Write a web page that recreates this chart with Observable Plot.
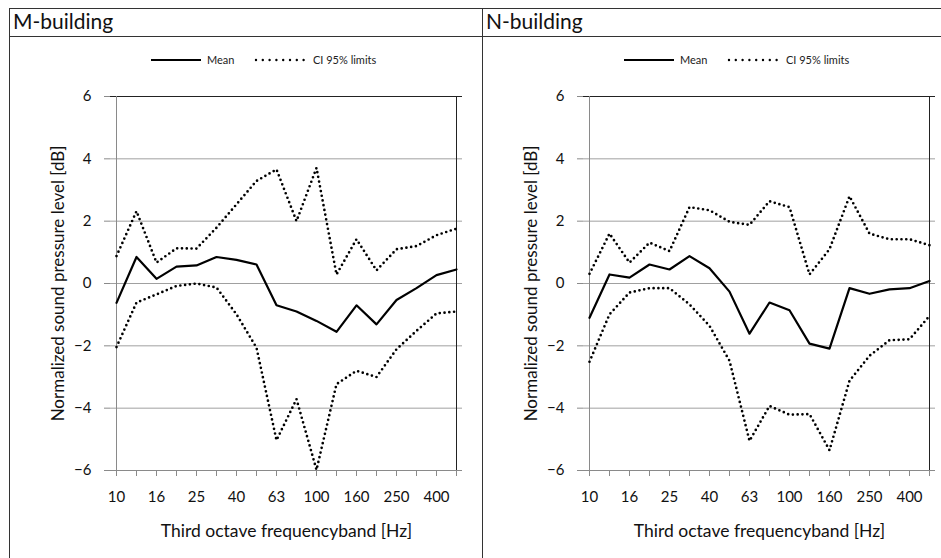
<!DOCTYPE html>
<html><head><meta charset="utf-8">
<script src="https://cdn.jsdelivr.net/npm/d3@7"></script>
<script src="https://cdn.jsdelivr.net/npm/@observablehq/plot@0.6"></script>
<style>
body{margin:0;background:#fff;font-family:Lato,sans-serif;}
#wrap{position:relative;width:941px;height:558px;overflow:hidden;background:#fff;}
.hline{position:absolute;height:1px;background:#333;}
.vline{position:absolute;width:1px;background:#333;}
.head{position:absolute;top:8px;font-size:21px;line-height:26px;color:#111;white-space:nowrap;}
.panel{position:absolute;top:36px;width:473px;height:522px;overflow:visible;}
.panel svg{display:block;max-width:none !important;width:473px !important;height:522px !important;}
.legend{position:absolute;top:53px;height:14px;font-size:11px;color:#222;white-space:nowrap;}
.legend svg, .legend span{position:absolute;top:0;}
.legend span{line-height:14px;}
</style></head>
<body><div id="wrap"></div>
<script>
const bands = ["10","12.5","16","20","25","31.5","40","50","63","80","100","125","160","200","250","315","400","500"];
const tickLabels = ["10","16","25","40","63","100","160","250","400"];
const yTicks = [-6, -4, -2, 0, 2, 4, 6];
const panelTitles = ["M-building", "N-building"];
const legendLabels = ["Mean", "CI 95% limits"];
const yTitle = "Normalized sound pressure level [dB]";
const xTitle = "Third octave frequencyband [Hz]";

const mMean  = [-0.62, 0.85, 0.15, 0.54, 0.58, 0.85, 0.76, 0.61, -0.70, -0.90, -1.20, -1.55, -0.70, -1.31, -0.53, -0.15, 0.27, 0.45];
const mUpper = [0.88, 2.32, 0.67, 1.13, 1.12, 1.79, 2.54, 3.29, 3.66, 2.00, 3.71, 0.29, 1.42, 0.42, 1.10, 1.20, 1.55, 1.76];
const mLower = [-2.04, -0.61, -0.35, -0.08, 0.00, -0.13, -0.99, -2.06, -5.03, -3.71, -5.98, -3.23, -2.80, -3.00, -2.11, -1.52, -0.96, -0.90];

const nMean  = [-1.10, 0.29, 0.19, 0.61, 0.45, 0.88, 0.49, -0.26, -1.61, -0.61, -0.86, -1.93, -2.09, -0.15, -0.33, -0.19, -0.15, 0.08];
const nUpper = [0.31, 1.60, 0.67, 1.31, 1.04, 2.45, 2.35, 1.98, 1.88, 2.64, 2.45, 0.29, 1.10, 2.80, 1.60, 1.42, 1.42, 1.23];
const nLower = [-2.51, -0.99, -0.29, -0.15, -0.15, -0.67, -1.36, -2.48, -5.05, -3.93, -4.21, -4.19, -5.35, -3.12, -2.32, -1.82, -1.79, -1.04];

const wrap = document.getElementById("wrap");
function el(cls, style, html) {
  const d = document.createElement("div");
  d.className = cls;
  Object.assign(d.style, style);
  if (html) d.innerHTML = html;
  wrap.appendChild(d);
  return d;
}

function panel(mean, upper, lower) {
  const rows = s => bands.map((b, i) => ({band: b, value: s[i]}));
  const dotted = {x: "band", y: "value", stroke: "#000", strokeWidth: 2.7, strokeDasharray: "0,4.8", strokeLinecap: "round"};
  return Plot.plot({
    width: 473, height: 522,
    marginLeft: 101, marginRight: 20, marginTop: 60, marginBottom: 88,
    x: {type: "point", domain: bands, padding: 0},
    y: {domain: [-6, 6]},
    style: {fontFamily: "Lato, sans-serif", fontSize: "15px", color: "#111", background: "transparent", overflow: "visible"},
    marks: [
      Plot.gridY(yTicks, {stroke: "#a0a0a0", strokeOpacity: 1}),
      Plot.ruleY([6], {stroke: "#222"}),
      Plot.ruleX([bands[bands.length - 1]], {stroke: "#222"}),
      Plot.ruleX([bands[0]], {stroke: "#8a8a8a"}),
      Plot.ruleY([-6], {stroke: "#8a8a8a"}),
      Plot.axisY(yTicks, {tickSize: 6, tickPadding: 13, stroke: "#8a8a8a", fill: "#111",
        label: null}),
      Plot.axisY([], {tickSize: 0, fill: "#111", fontSize: 17,
        label: yTitle, labelAnchor: "center", labelOffset: 59, labelArrow: "none"}),
      Plot.axisX({tickSize: 6, tickPadding: 15, stroke: "#8a8a8a", fill: "#111",
        tickFormat: d => tickLabels.includes(d) ? d : "", label: null}),
      Plot.axisX([], {tickSize: 0, fill: "#111", fontSize: 17.5,
        label: xTitle, labelAnchor: "center", labelOffset: 66, labelArrow: "none"}),
      Plot.line(rows(upper), dotted),
      Plot.line(rows(lower), dotted),
      Plot.line(rows(mean), {x: "band", y: "value", stroke: "#000", strokeWidth: 2.2})
    ]
  });
}

// table borders
el("hline", {left: "9px", top: "8px", width: "932px"});
el("hline", {left: "9px", top: "36px", width: "932px"});
el("vline", {left: "9px", top: "8px", height: "550px"});
el("vline", {left: "482px", top: "8px", height: "550px"});

const sets = [[mMean, mUpper, mLower], [nMean, nUpper, nLower]];
const offsets = [9, 482];
sets.forEach((s, k) => {
  const off = offsets[k];
  el("head", {left: (off + 4) + "px"}, panelTitles[k]);
  const p = el("panel", {left: off + "px"});
  p.appendChild(panel(...s));
  const lx = off + 141;
  el("legend", {left: lx + "px", width: "260px"},
    `<svg width="52" height="14" style="left:0"><line x1="1" x2="51" y1="7" y2="7" stroke="#000" stroke-width="2"/></svg>` +
    `<span style="left:57px">${legendLabels[0]}</span>` +
    `<svg width="52" height="14" style="left:104px"><line x1="2" x2="50" y1="7" y2="7" stroke="#000" stroke-width="2.4" stroke-dasharray="0,6.8" stroke-linecap="round"/></svg>` +
    `<span style="left:163px">${legendLabels[1]}</span>`);
});
</script>
</body></html>
